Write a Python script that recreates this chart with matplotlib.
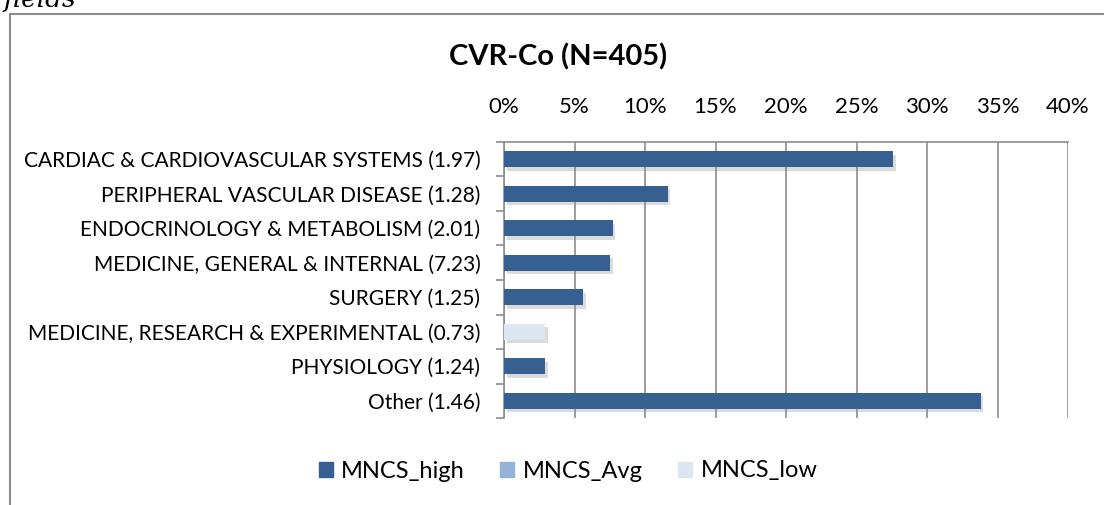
import matplotlib
matplotlib.use("Agg")
import matplotlib.pyplot as plt
import matplotlib.patheffects as pe
from matplotlib.lines import Line2D
from matplotlib.patches import Rectangle
import numpy as np

categories = [
    "CARDIAC & CARDIOVASCULAR SYSTEMS (1.97)",
    "PERIPHERAL VASCULAR DISEASE (1.28)",
    "ENDOCRINOLOGY & METABOLISM (2.01)",
    "MEDICINE, GENERAL & INTERNAL (7.23)",
    "SURGERY (1.25)",
    "MEDICINE, RESEARCH & EXPERIMENTAL (0.73)",
    "PHYSIOLOGY (1.24)",
    "Other (1.46)",
]
values = [27.6, 11.6, 7.7, 7.5, 5.6, 2.9, 2.9, 33.8]
series_of = ["MNCS_high", "MNCS_high", "MNCS_high", "MNCS_high", "MNCS_high",
             "MNCS_low", "MNCS_high", "MNCS_high"]
series_names = ["MNCS_high", "MNCS_Avg", "MNCS_low"]
series_colors = ["#366092", "#95B3D7", "#DCE6F2"]
xticks = [0, 5, 10, 15, 20, 25, 30, 35, 40]
title = "CVR-Co (N=405)"

FONT = "Lato"
plt.rcParams["font.family"] = [FONT, "DejaVu Sans"]

fig = plt.figure(figsize=(11.04, 5.05), dpi=100)
W, H = 1104, 505
ax = fig.add_axes([504 / W, 1 - 418 / H, (1068 - 504) / W, (418 - 142) / H])

ypos = np.arange(len(categories))
shadow = [pe.SimplePatchShadow(offset=(2, -2.5), shadow_rgbFace="#888888", alpha=0.3),
          pe.Normal()]
for name, color in zip(series_names, series_colors):
    idx = [i for i, s in enumerate(series_of) if s == name]
    if not idx:
        continue
    bars = ax.barh([ypos[i] for i in idx], [values[i] for i in idx], height=0.46,
                   color=color, zorder=3, edgecolor="none")
    for b in bars:
        b.set_path_effects(shadow)

ax.set_xlim(0, 40)
ax.set_ylim(len(categories) - 0.5, -0.5)
ax.set_xticks(xticks)
ax.set_xticklabels([f"{v}%" for v in xticks])
ax.xaxis.tick_top()
ax.tick_params(axis="x", which="major", length=0, pad=18, labelsize=16, labelcolor="black")
ax.grid(axis="x", color="#8c8c8c", linewidth=1.2, zorder=0)
ax.set_yticks(ypos)
ax.set_yticklabels(categories)
ax.set_yticks(np.arange(len(categories) + 1) - 0.5, minor=True)
ax.tick_params(axis="y", which="major", length=0, pad=17, labelsize=15)
ax.tick_params(axis="y", which="minor", length=6, width=1.2, color="#8c8c8c", direction="out")
for s in ["right", "bottom"]:
    ax.spines[s].set_visible(False)
for s in ["left", "top"]:
    ax.spines[s].set_color("#8c8c8c")
    ax.spines[s].set_linewidth(1.2)

fig.text(558 / W, 1 - 57 / H, title, ha="center", va="center", fontsize=21, fontweight="bold")

# chart area border (top and left)
fig.add_artist(Line2D([10 / W, 1], [1 - 14 / H, 1 - 14 / H], color="#8c8c8c", linewidth=1.5))
fig.add_artist(Line2D([10 / W, 10 / W], [0, 1 - 14 / H], color="#8c8c8c", linewidth=1.5))
fig.text(4 / W, 1 - 7 / H, "fields", ha="left", va="baseline", fontsize=19,
         style="italic", family=["DejaVu Serif"])

handles = [Rectangle((0, 0), 1, 1, color=c) for c in series_colors]
fig.legend(handles, series_names, loc="center", bbox_to_anchor=(568 / W, 1 - 471 / H),
           ncol=3, frameon=False, fontsize=17, handlelength=0.6, handleheight=0.6,
           handletextpad=0.35, columnspacing=1.5)

fig.savefig("out.png", dpi=100)
